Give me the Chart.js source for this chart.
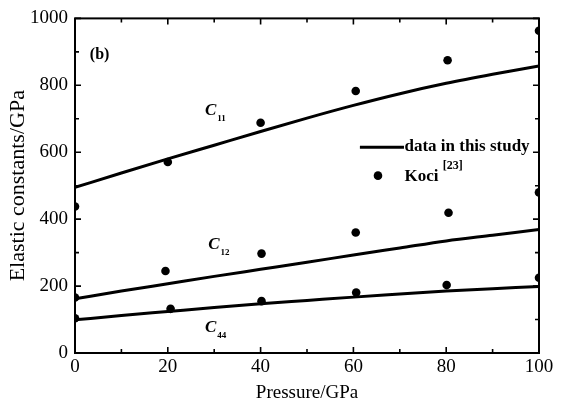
<!DOCTYPE html>
<html>
<head>
<meta charset="utf-8">
<script src="https://cdn.jsdelivr.net/npm/chart.js@4/dist/chart.umd.min.js"></script>
<style>
  html, body { margin: 0; padding: 0; background: #fff; }
  #wrap { width: 565px; height: 405px; }
</style>
</head>
<body>
<div id="wrap"><canvas id="c"></canvas></div>
<script>
// Calculated elastic constants (GPa) versus pressure (GPa)
const pressureGrid = [0, 10, 20, 30, 40, 50, 60, 70, 80, 90, 100];
const c11Calc = [495, 538, 580, 621, 662, 702, 740, 775, 806, 833, 858];
const c12Calc = [162, 185, 207, 229, 250, 271, 293, 314, 335, 352, 369];
const c44Calc = [99, 112, 124, 136, 147, 157, 167, 176, 185, 192, 199];

// Reference values from Koci [23]
const kociP11 = [0, 20, 40, 60.5, 80.3, 100];
const kociC11 = [438, 571, 688, 783, 875, 963];
const kociP12 = [0, 19.5, 40.2, 60.5, 80.5, 100];
const kociC12 = [166, 245, 297, 360, 419, 480];
const kociP44 = [0, 20.6, 40.2, 60.6, 80.1, 100];
const kociC44 = [104, 132, 155, 181, 203, 225];

// Axis tick labels
const xTicks = [0, 20, 40, 60, 80, 100];
const yTicks = [0, 200, 400, 600, 800, 1000];
const xMinor = [10, 30, 50, 70, 90];
const yMinor = [100, 300, 500, 700, 900];

const serif = '"Liberation Serif", "Times New Roman", serif';
const pairs = (xs, ys) => xs.map((x, i) => ({ x, y: ys[i] }));

const lineSet = (ys) => ({
  data: pairs(pressureGrid, ys),
  showLine: true,
  borderColor: '#000',
  borderWidth: 3,
  pointRadius: 0,
  cubicInterpolationMode: 'monotone'
});
const dotSet = (xs, ys) => ({
  data: pairs(xs, ys),
  showLine: false,
  pointRadius: 4.3,
  pointBackgroundColor: '#000',
  pointBorderColor: '#000',
  pointBorderWidth: 0
});

// Frame, inward ticks, curve labels and legend
const decor = {
  id: 'decor',
  afterDatasetsDraw(chart) {
    const { ctx, chartArea: a, scales: { x, y } } = chart;
    ctx.save();
    ctx.strokeStyle = '#000';
    ctx.fillStyle = '#000';

    // inward ticks on all four sides
    ctx.lineWidth = 1.6;
    const tickX = (v, len) => {
      const px = x.getPixelForValue(v);
      ctx.beginPath();
      ctx.moveTo(px, a.bottom); ctx.lineTo(px, a.bottom - len);
      ctx.moveTo(px, a.top); ctx.lineTo(px, a.top + len);
      ctx.stroke();
    };
    const tickY = (v, len) => {
      const py = y.getPixelForValue(v);
      ctx.beginPath();
      ctx.moveTo(a.left, py); ctx.lineTo(a.left + len, py);
      ctx.moveTo(a.right, py); ctx.lineTo(a.right - len, py);
      ctx.stroke();
    };
    xTicks.forEach(v => tickX(v, 6));
    xMinor.forEach(v => tickX(v, 4));
    yTicks.forEach(v => tickY(v, 6));
    yMinor.forEach(v => tickY(v, 4));

    // frame
    ctx.lineWidth = 2;
    ctx.strokeRect(a.left, a.top, a.right - a.left, a.bottom - a.top);

    // panel tag
    ctx.textBaseline = 'alphabetic';
    ctx.textAlign = 'left';
    ctx.font = `bold 16px ${serif}`;
    ctx.fillText('(b)', x.getPixelForValue(3.2), y.getPixelForValue(878));

    // curve labels
    const curveLabel = (px, py, sub) => {
      ctx.font = `italic bold 17px ${serif}`;
      ctx.fillText('C', px, py);
      const w = ctx.measureText('C').width;
      ctx.font = `bold 9px ${serif}`;
      ctx.fillText(sub, px + w + 1, py + 6);
    };
    curveLabel(x.getPixelForValue(28.0), y.getPixelForValue(712), '11');
    curveLabel(x.getPixelForValue(28.7), y.getPixelForValue(312), '12');
    curveLabel(x.getPixelForValue(28.0), y.getPixelForValue(62), '44');

    // legend
    const lx0 = x.getPixelForValue(61.4), lx1 = x.getPixelForValue(70.9);
    const ly = y.getPixelForValue(615);
    ctx.lineWidth = 3;
    ctx.beginPath(); ctx.moveTo(lx0, ly); ctx.lineTo(lx1, ly); ctx.stroke();
    ctx.font = `bold 17px ${serif}`;
    const tx = x.getPixelForValue(71.0);
    ctx.fillText('data in this study', tx, y.getPixelForValue(604));

    ctx.beginPath();
    ctx.arc(x.getPixelForValue(65.3), y.getPixelForValue(530), 4.3, 0, Math.PI * 2);
    ctx.fill();
    const kb = y.getPixelForValue(514);
    ctx.font = `bold 17px ${serif}`;
    ctx.fillText('Koci', tx, kb);
    const kw = ctx.measureText('Koci ').width;
    ctx.font = `bold 12px ${serif}`;
    ctx.fillText('[23]', tx + kw, kb - 12);

    ctx.restore();
  }
};

new Chart(document.getElementById('c'), {
  type: 'scatter',
  data: {
    datasets: [
      lineSet(c11Calc),
      lineSet(c12Calc),
      lineSet(c44Calc),
      dotSet(kociP11, kociC11),
      dotSet(kociP12, kociC12),
      dotSet(kociP44, kociC44)
    ]
  },
  options: {
    responsive: true,
    maintainAspectRatio: false,
    animation: false,
    events: [],
    layout: { padding: { left: 0, right: 26, top: 13, bottom: 0 } },
    plugins: { legend: { display: false }, tooltip: { enabled: false } },
    scales: {
      x: {
        type: 'linear',
        min: 0, max: 100,
        afterBuildTicks: s => { s.ticks = xTicks.map(v => ({ value: v })); },
        afterFit: s => { s.height = 52; },
        grid: { display: false, drawTicks: false },
        border: { display: false },
        ticks: {
          color: '#000', font: { family: serif, size: 19 }, padding: 3, maxRotation: 0,
          callback: v => String(v)
        },
        title: {
          display: true, text: 'Pressure/GPa', color: '#000',
          font: { family: serif, size: 19 }, padding: { top: 0, bottom: 1 }
        }
      },
      y: {
        type: 'linear',
        min: 0, max: 1000,
        afterBuildTicks: s => { s.ticks = yTicks.map(v => ({ value: v })); },
        afterFit: s => { s.width = 75; },
        grid: { display: false, drawTicks: false },
        border: { display: false },
        ticks: {
          color: '#000', font: { family: serif, size: 19 }, padding: 7,
          callback: v => String(v)
        },
        title: {
          display: true, text: 'Elastic constants/GPa', color: '#000',
          font: { family: serif, size: 22 }, padding: { top: 5, bottom: 0 }
        }
      }
    }
  },
  plugins: [decor]
});
</script>
</body>
</html>
